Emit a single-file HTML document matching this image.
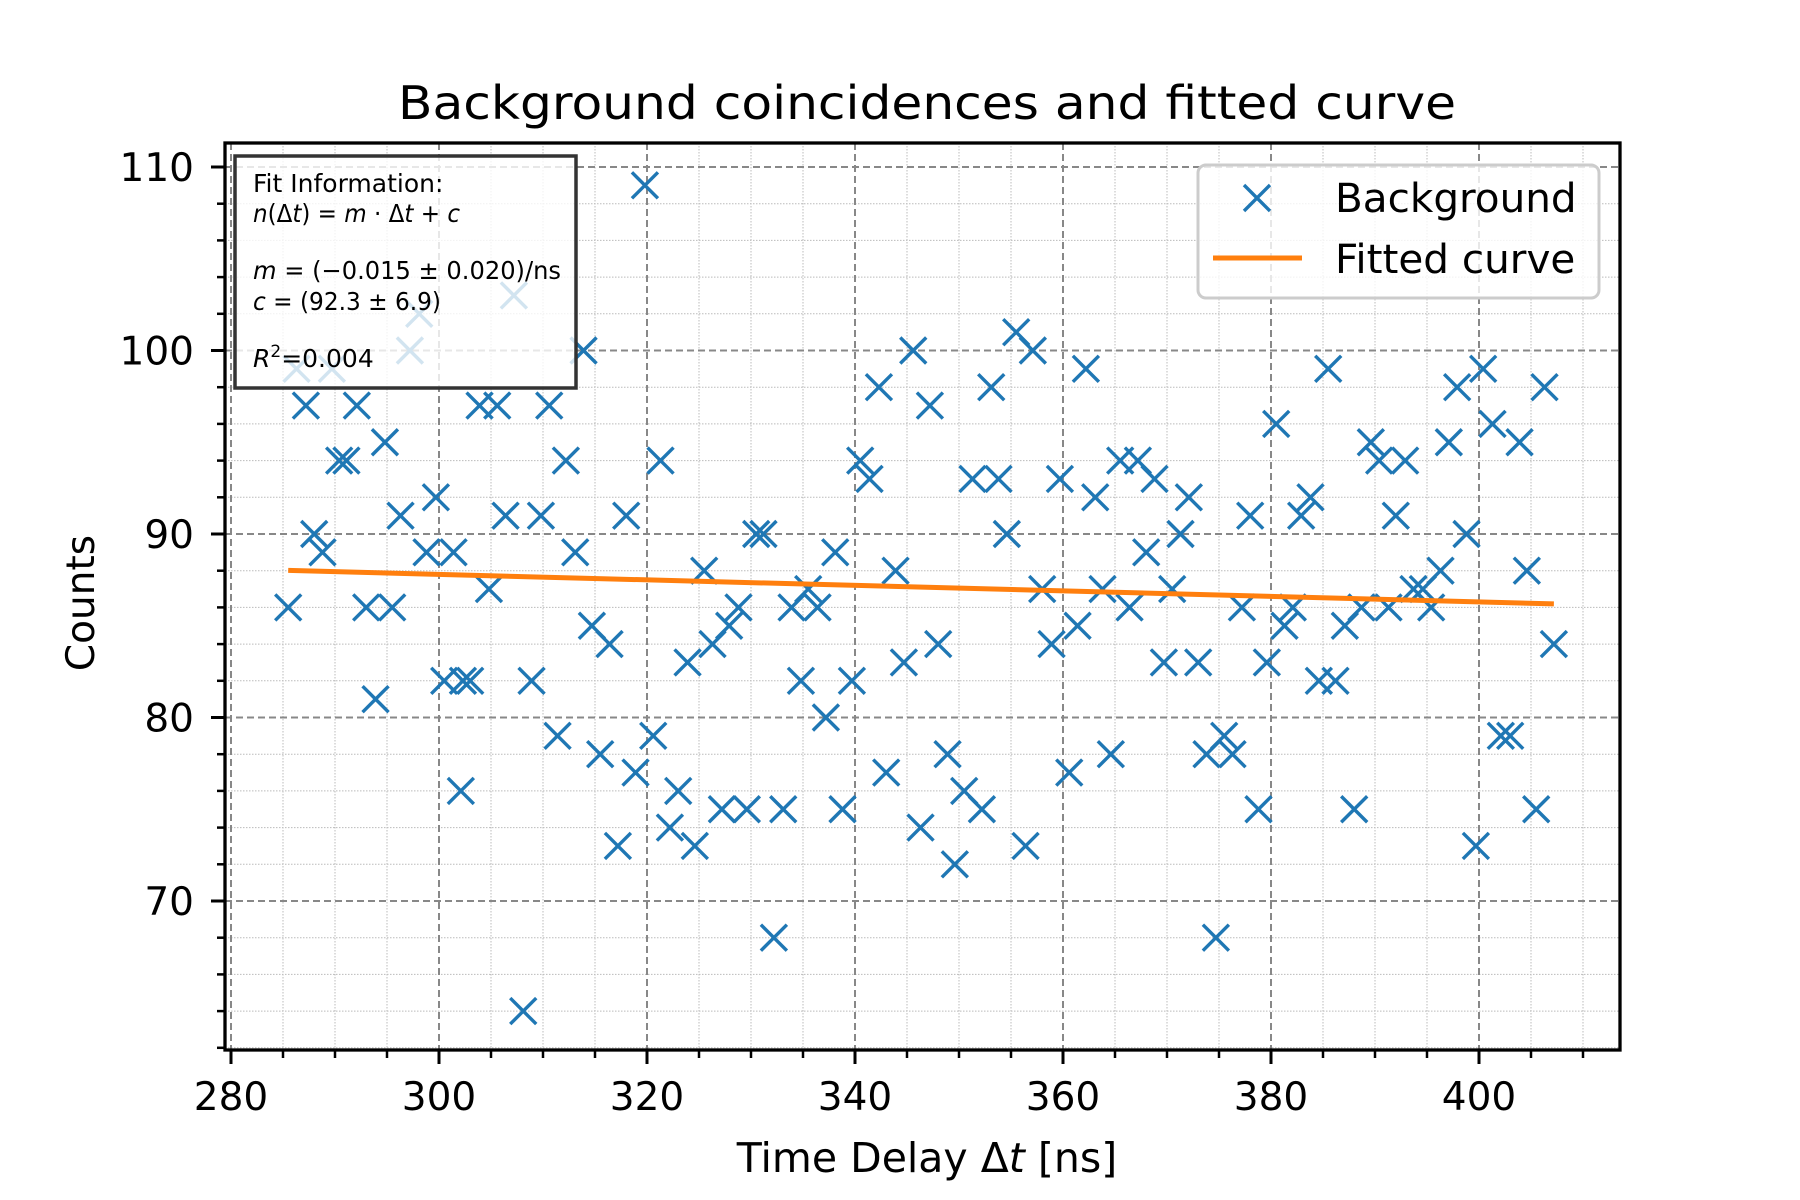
<!DOCTYPE html>
<html><head><meta charset="utf-8"><style>
html,body{margin:0;padding:0;background:#fff;}
svg{display:block;font-family:"DejaVu Sans","Liberation Sans",sans-serif;}
</style></head><body>
<svg id="chart" width="1800" height="1200" viewBox="0 0 1800 1200" xmlns="http://www.w3.org/2000/svg">
<rect x="0" y="0" width="1800" height="1200" fill="#fff"/>
<g id="grid"></g>
<g id="marks"></g>
<g id="axes"></g>
<text x="927" y="119" font-size="46" text-anchor="middle" textLength="1058" lengthAdjust="spacingAndGlyphs">Background coincidences and fitted curve</text>
<text x="927" y="1172" font-size="41" text-anchor="middle">Time Delay Δ<tspan font-style="italic">t</tspan> [ns]</text>
<text x="0" y="0" font-size="39" text-anchor="middle" transform="translate(94,603) rotate(-90)">Counts</text>
<g>
<rect x="235" y="156" width="341" height="232" fill="#fff" fill-opacity="0.8" stroke="#333" stroke-width="3.5"/>
<text x="253" y="192" font-size="25">Fit Information:</text>
<text x="253" y="222" font-size="25" textLength="207" lengthAdjust="spacingAndGlyphs"><tspan font-style="italic">n</tspan>(Δ<tspan font-style="italic">t</tspan>) = <tspan font-style="italic">m</tspan> · Δ<tspan font-style="italic">t</tspan> + <tspan font-style="italic">c</tspan></text>
<text x="253" y="279" font-size="25" textLength="308" lengthAdjust="spacingAndGlyphs"><tspan font-style="italic">m</tspan> = (−0.015 ± 0.020)/ns</text>
<text x="253" y="310" font-size="25" textLength="188" lengthAdjust="spacingAndGlyphs"><tspan font-style="italic">c</tspan> = (92.3 ± 6.9)</text>
<text x="253" y="367" font-size="25"><tspan font-style="italic">R</tspan><tspan font-size="17" dy="-10">2</tspan><tspan dy="10">=0.004</tspan></text>
</g>
<g>
<rect x="1198" y="165" width="401" height="133" rx="8" fill="#fff" fill-opacity="0.8" stroke="#ccc" stroke-width="3"/>
<g stroke="#1f77b4" stroke-width="3.4">
<line x1="1244" y1="185" x2="1270" y2="211"/><line x1="1244" y1="211" x2="1270" y2="185"/></g>
<text x="1335" y="212" font-size="40.5">Background</text>
<line x1="1213" y1="258" x2="1302" y2="258" stroke="#ff7f0e" stroke-width="5"/>
<text x="1335" y="273" font-size="40.5">Fitted curve</text>
</g>
</svg>
<script>
const xs = [285.5,286.3,287.2,288,288.8,289.7,290.4,291.1,292.1,293,293.9,294.8,295.5,296.3,297.2,298.1,298.8,299.7,300.5,301.4,302.1,302.3,303,303.9,304.8,305.6,306.4,307.2,308.1,308.9,309.8,310.6,311.4,312.2,313.1,313.9,314.7,315.5,316.4,317.2,318,318.9,319.8,320.6,321.3,322.2,323,323.9,324.6,325.5,326.3,327.2,327.9,328.8,329.6,330.5,331.2,332.2,333.1,333.9,334.8,335.5,336.4,337.2,338.1,338.8,339.7,340.5,341.4,342.3,343,343.9,344.7,345.6,346.3,347.2,348,348.9,349.6,350.5,351.3,352.2,353.1,353.8,354.6,355.5,356.4,357.1,358,358.9,359.7,360.6,361.4,362.2,363.1,363.8,364.6,365.5,366.4,367.2,368,368.8,369.7,370.5,371.3,372.1,373,373.8,374.7,375.5,376.3,377.2,378,378.8,379.6,380.5,381.3,382.1,382.9,383.8,384.6,385.5,386.2,387.1,388,388.7,389.6,390.4,391.3,392,392.9,393.7,394.6,395.4,396.3,397.1,397.9,398.8,399.7,400.4,401.3,402.1,403,403.9,404.6,405.5,406.3,407.2];
const counts = [86,99,97,90,89,99,94,94,97,86,81,95,86,91,100,102,89,92,82,89,76,82,82,97,87,97,91,103,64,82,91,97,79,94,89,100,85,78,84,73,91,77,109,79,94,74,76,83,73,88,84,75,85,86,75,90,90,68,75,86,82,87,86,80,89,75,82,94,93,98,77,88,83,100,74,97,84,78,72,76,93,75,98,93,90,101,73,100,87,84,93,77,85,99,92,87,78,94,86,94,89,93,83,87,90,92,83,78,68,79,78,86,91,75,83,96,85,86,91,92,82,99,82,85,75,86,95,94,86,91,94,87,87,86,88,95,98,90,73,99,96,79,79,95,88,75,98,84];
const fitSlope = -0.015;
const fitIntercept = 92.3;
const xTicks = [280,300,320,340,360,380,400];
const yTicks = [70,80,90,100,110];
const xMinorTicks = [280,285,290,295,300,305,310,315,320,325,330,335,340,345,350,355,360,365,370,375,380,385,390,395,400,405,410];
const yMinorTicks = [62,64,66,68,70,72,74,76,78,80,82,84,86,88,90,92,94,96,98,100,102,104,106,108,110];

const L=225,R=1620,T=143,B=1050;
const X0=280,XP0=231,XS=10.4;
const Y0=110,YP0=167,YS=18.35;
function sx(v){return XP0+(v-X0)*XS;}
function sy(v){return YP0+(Y0-v)*YS;}
const NS='http://www.w3.org/2000/svg';
function mk(tag,attrs,parent){const e=document.createElementNS(NS,tag);for(const k in attrs)e.setAttribute(k,attrs[k]);parent.appendChild(e);return e;}
const grid=document.getElementById('grid'),marks=document.getElementById('marks'),axes=document.getElementById('axes');

xMinorTicks.forEach(v=>{if(xTicks.includes(v))return;const x=sx(v);
 const g=mk('line',{x1:x,y1:T,x2:x,y2:B,stroke:'#bbb','stroke-width':1,'stroke-dasharray':'1.5,1.5'},grid);
 
 const t=mk('line',{x1:x,y1:B,x2:x,y2:B+8,stroke:'#000','stroke-width':2.5},axes);
 });
yMinorTicks.forEach(v=>{if(yTicks.includes(v))return;const y=sy(v);
 const g=mk('line',{x1:L,y1:y,x2:R,y2:y,stroke:'#bbb','stroke-width':1,'stroke-dasharray':'1.5,1.5'},grid);
 
 const t=mk('line',{x1:L-8,y1:y,x2:L,y2:y,stroke:'#000','stroke-width':2.5},axes);
 });
xTicks.forEach(v=>{const x=sx(v);
 const g=mk('line',{x1:x,y1:T,x2:x,y2:B,stroke:'#888','stroke-width':2,'stroke-dasharray':'7,4'},grid);
 
 const t=mk('line',{x1:x,y1:B,x2:x,y2:B+14,stroke:'#000','stroke-width':3},axes);
 
 const l=mk('text',{x:x,y:1110,'font-size':39,'text-anchor':'middle'},axes);l.textContent=v;
 });
yTicks.forEach(v=>{const y=sy(v);
 const g=mk('line',{x1:L,y1:y,x2:R,y2:y,stroke:'#888','stroke-width':2,'stroke-dasharray':'7,4'},grid);
 
 const t=mk('line',{x1:L-14,y1:y,x2:L,y2:y,stroke:'#000','stroke-width':3},axes);
 
 const l=mk('text',{x:194,y:y+14,'font-size':39,'text-anchor':'end'},axes);l.textContent=v;
 });
const sp=mk('rect',{x:L,y:T,width:R-L,height:B-T,fill:'none',stroke:'#000','stroke-width':3.3},axes);


const h=13;
xs.forEach((xv,i)=>{const cx=sx(xv),cy=sy(counts[i]);
 const g=mk('g',{stroke:'#1f77b4','stroke-width':3.4},marks);
 
 mk('line',{x1:cx-h,y1:cy-h,x2:cx+h,y2:cy+h},g);mk('line',{x1:cx-h,y1:cy+h,x2:cx+h,y2:cy-h},g);});
const xa=xs[0],xb=xs[xs.length-1];
const fl=mk('line',{x1:sx(xa),y1:sy(fitIntercept+fitSlope*xa),x2:sx(xb),y2:sy(fitIntercept+fitSlope*xb),stroke:'#ff7f0e','stroke-width':5},marks);

</script>
</body></html>
